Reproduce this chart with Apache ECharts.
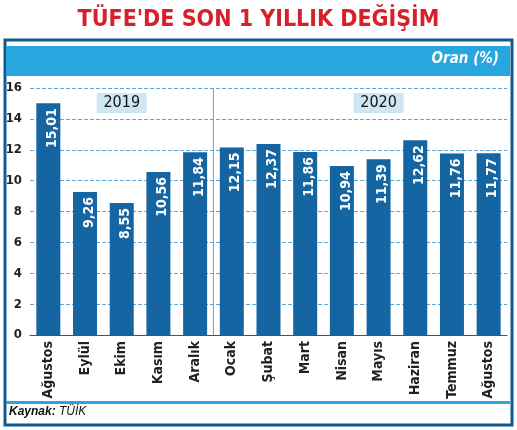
<!DOCTYPE html><html><head><meta charset="utf-8"><script src="https://cdn.jsdelivr.net/npm/echarts@6/dist/echarts.min.js"></script>
<style>html,body{margin:0;padding:0;background:#fff}#c{width:517px;height:430px}</style></head><body><div id="c"></div>
<script>
const categories=['Ağustos','Eylül','Ekim','Kasım','Aralık','Ocak','Şubat','Mart','Nisan','Mayıs','Haziran','Temmuz','Ağustos'];
const values=[15.01,9.26,8.55,10.56,11.84,12.15,12.37,11.86,10.94,11.39,12.62,11.76,11.77];
const yTicks=[0,2,4,6,8,10,12,14,16];
const years=['2019','2020'];
const ch=echarts.init(document.getElementById('c'));
const cond='"DejaVu Sans Condensed",sans-serif';
ch.setOption({
 animation:false,
 grid:{left:30,right:10,top:88,bottom:95},
 xAxis:{type:'category',data:categories,axisTick:{show:false},axisLine:{lineStyle:{color:'#1a5f95',width:1}},
  axisLabel:{rotate:90,color:'#222',fontFamily:cond,fontWeight:'bold',fontSize:14,margin:6}},
 yAxis:{type:'value',min:0,max:16,interval:2,axisLabel:{color:'#222',fontFamily:cond,fontWeight:'bold',fontSize:13,margin:8,formatter:v=>yTicks.includes(v)?String(v):''},
  splitLine:{lineStyle:{color:'#5aa9d6',type:'dashed',width:1}},axisLine:{show:false},axisTick:{show:false}},
 series:[{type:'bar',data:values,barWidth:24,itemStyle:{color:'#1565a3'},
  label:{show:true,position:'insideTop',rotate:90,align:'right',verticalAlign:'middle',offset:[0,4],color:'#fff',fontFamily:cond,fontWeight:'bold',fontSize:14,
   formatter:p=>p.value.toFixed(2).replace('.',',')}}]
});
const xd=(ch.convertToPixel({xAxisIndex:0},4)+ch.convertToPixel({xAxisIndex:0},5))/2;
const x19=ch.convertToPixel({xAxisIndex:0},2), x20=ch.convertToPixel({xAxisIndex:0},9);
const y16=ch.convertToPixel({yAxisIndex:0},16), y0=ch.convertToPixel({yAxisIndex:0},0);
ch.setOption({graphic:[
 {type:'text',left:'center',top:9,style:{text:"TÜFE'DE SON 1 YILLIK DEĞİŞİM",fill:'#d6202a',font:'bold 23px '+cond}},
 {type:'rect',shape:{x:5,y:40,width:507,height:385},style:{fill:'none',stroke:'#135a8f',lineWidth:3},z:-1},
 {type:'rect',shape:{x:6,y:46,width:504,height:30},style:{fill:'#27a7de'}},
 {type:'text',right:18,top:52,style:{text:'Oran (%)',fill:'#fff',font:'bold italic 15px '+cond}},
 {type:'line',shape:{x1:xd,y1:y16,x2:xd,y2:y0},style:{stroke:'#5aa9d6',lineWidth:1}},
 {type:'rect',shape:{x:x19-25,y:93,width:50,height:20},style:{fill:'#cfe6f5'}},
 {type:'text',x:x19,y:103,style:{text:years[0],fill:'#111',font:'16px "DejaVu Sans Condensed",sans-serif',align:'center',verticalAlign:'middle'}},
 {type:'rect',shape:{x:x20-25,y:93,width:50,height:20},style:{fill:'#cfe6f5'}},
 {type:'text',x:x20,y:103,style:{text:years[1],fill:'#111',font:'16px "DejaVu Sans Condensed",sans-serif',align:'center',verticalAlign:'middle'}},
 {type:'rect',shape:{x:6,y:401,width:504,height:3},style:{fill:'#27a7de'}},
 {type:'text',left:9,top:406,style:{text:'{b|Kaynak:} TÜİK',rich:{b:{fontWeight:'bold',fontStyle:'italic',fontSize:12,fill:'#111'}},font:'italic 12px sans-serif',fill:'#111'}}
]});
</script></body></html>
